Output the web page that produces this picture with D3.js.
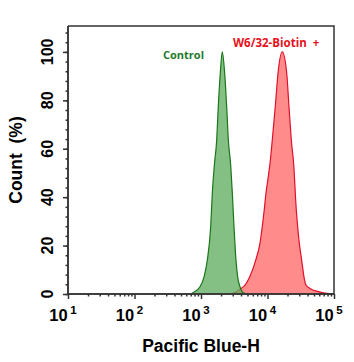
<!DOCTYPE html>
<html>
<head>
<meta charset="utf-8">
<script src="https://cdn.jsdelivr.net/npm/d3@7"></script>
<style>
  body { margin: 0; background: #fff; }
  svg { display: block; }
</style>
</head>
<body>
<script>
(function() {

    var width = 354;
    var height = 362;

    // histogram outlines: log10(intensity) and count (%)
    const controlLog   = [2.85, 2.88, 2.985, 3.045, 3.095, 3.146, 3.17, 3.2, 3.236, 3.26, 3.29, 3.32, 3.356, 3.386, 3.411, 3.447, 3.471, 3.496, 3.526, 3.552, 3.586, 3.636, 3.7];
    const controlCount = [0, 0.5, 3, 7, 14, 28, 41.6, 53, 63.6, 77.4, 91.2, 100, 91.2, 77.4, 63.6, 53, 41.6, 28, 14, 7, 3, 0.5, 0];

    const stainLog   = [3.44, 3.537, 3.602, 3.662, 3.732, 3.823, 3.887, 3.922, 3.952, 3.977, 4.012, 4.042, 4.072, 4.117, 4.158, 4.223, 4.289, 4.323, 4.358, 4.398, 4.418, 4.433, 4.454, 4.478, 4.514, 4.549, 4.579, 4.639, 4.764, 4.89, 5.0];
    const stainCount = [0, 1, 2.3, 3.7, 7, 14, 21, 28, 35, 41.6, 48.5, 55, 63.6, 77.4, 91.2, 100, 91.2, 77.4, 63.6, 52, 41.6, 34.7, 27.8, 21, 14, 7, 3.7, 2.3, 1, 0.3, 0];

    const yTicks = [0, 20, 40, 60, 80, 100];
    const xExponents = [1, 2, 3, 4, 5];

    const svg = d3.select("body")
      .append("svg")
      .attr("width", width)
      .attr("height", height);

    const x = d3.scaleLog().domain([10, 1e5]).range([68, 334]);
    const y = d3.scaleLinear().domain([0, 110.7]).range([294, 26]);

    //build point lists for the two histograms
    const control = controlLog.map((e, i) => ({ v: Math.pow(10, e), c: controlCount[i] }));
    const stain = stainLog.map((e, i) => ({ v: Math.pow(10, e), c: stainCount[i] }));

    const area = d3.area()
        .x(d => x(d.v))
        .y0(y(0))
        .y1(d => y(d.c))
        .curve(d3.curveMonotoneX);
    const line = d3.line()
        .x(d => x(d.v))
        .y(d => y(d.c))
        .curve(d3.curveMonotoneX);

    //red (stained) histogram
    svg.append("path")
        .attr("d", area(stain))
        .attr("fill", "#ff7777")
        .attr("fill-opacity", 0.85);
    svg.append("path")
        .attr("d", line(stain))
        .attr("fill", "none")
        .attr("stroke", "#e01028")
        .attr("stroke-width", 1.2);

    //green (control) histogram
    svg.append("path")
        .attr("d", area(control))
        .attr("fill", "#62ad62")
        .attr("fill-opacity", 0.78);
    svg.append("path")
        .attr("d", line(control))
        .attr("fill", "none")
        .attr("stroke", "#1a761a")
        .attr("stroke-width", 1.2);

    //frame (top and right)
    svg.append("path")
        .attr("d", `M${x(10)},${y(110.7)}H${x(1e5)}V${y(0)}`)
        .attr("fill", "none")
        .attr("stroke", "#333")
        .attr("stroke-width", 1.5);

    //y axis
    const yMinor = d3.range(0, 110, 4);
    const yAxis = svg.append("g").attr("transform", `translate(${x(10)},0)`);
    yAxis.call(d3.axisLeft(y).tickValues(yMinor).tickSize(2.5).tickFormat(""));
    yAxis.append("g").call(d3.axisLeft(y).tickValues(yTicks).tickSize(5).tickFormat(""));
    yAxis.selectAll(".domain").attr("d", `M0,${y(110.7)}V${y(0)}`);
    yAxis.selectAll("path, line").attr("stroke", "#333").attr("stroke-width", 1.5);

    svg.selectAll(".ylab")
        .data(yTicks)
        .enter()
        .append("text")
        .attr("transform", d => `translate(53,${y(d)}) rotate(-90)`)
        .attr("text-anchor", "middle")
        .style("font", "bold 16px 'Liberation Sans', Arial, sans-serif")
        .text(d => d);

    //x axis
    const xMinor = [];
    [10, 100, 1000, 10000].forEach(b => { for (let k = 2; k <= 9; k++) xMinor.push(b * k); });
    const xAxis = svg.append("g").attr("transform", `translate(0,${y(0)})`);
    xAxis.call(d3.axisBottom(x).tickValues(xMinor).tickSize(2.5).tickFormat(""));
    xAxis.append("g").call(d3.axisBottom(x).tickValues(xExponents.map(e => Math.pow(10, e))).tickSize(5).tickFormat(""));
    xAxis.selectAll(".domain").attr("d", `M${x(10)},0H${x(1e5)}`);
    xAxis.selectAll("path, line").attr("stroke", "#333").attr("stroke-width", 1.5);

    const xl = svg.selectAll(".xlab")
        .data(xExponents)
        .enter()
        .append("text")
        .attr("x", d => x(Math.pow(10, d)) - 5)
        .attr("y", 321)
        .attr("text-anchor", "middle")
        .style("font", "bold 16.5px 'Liberation Sans', Arial, sans-serif");
    xl.append("tspan").text("10");
    xl.append("tspan")
        .attr("dx", 2.5)
        .attr("dy", -7)
        .style("font-size", "11.5px")
        .text(d => d);

    //axis titles
    svg.append("text")
        .attr("x", (x(10) + x(1e5)) / 2)
        .attr("y", 352)
        .attr("text-anchor", "middle")
        .style("font", "bold 17.5px 'Liberation Sans', Arial, sans-serif")
        .text("Pacific Blue-H");

    svg.append("text")
        .attr("transform", `translate(22,${(y(0) + y(110.7)) / 2}) rotate(-90)`)
        .attr("text-anchor", "middle")
        .style("font", "bold 17.5px 'Liberation Sans', Arial, sans-serif")
        .style("white-space", "pre")
        .text("Count  (%)");

    //legend labels
    svg.append("text")
        .attr("x", 163)
        .attr("y", 59)
        .attr("fill", "#1e7a2a")
        .style("font", "bold 11px 'Open Sans', sans-serif")
        .text("Control");

    svg.append("text")
        .attr("x", 233)
        .attr("y", 47)
        .attr("fill", "#e8101c")
        .style("font", "bold 11.5px 'Open Sans', sans-serif")
        .style("white-space", "pre")
        .text("W6/32-Biotin  +");

})();
</script>
</body>
</html>
